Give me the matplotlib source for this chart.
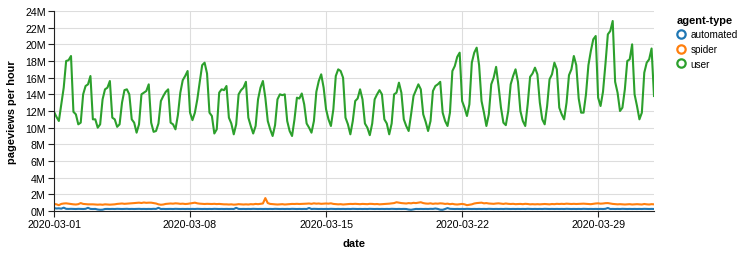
import numpy as np
import pandas as pd
import matplotlib
matplotlib.use('Agg')
import matplotlib.pyplot as plt
import matplotlib.dates as mdates
from matplotlib.lines import Line2D
from matplotlib.ticker import FuncFormatter, MultipleLocator

plt.rcParams['font.family'] = ['Liberation Sans', 'DejaVu Sans']

# pageviews per hour (millions), one sample every 3 hours, 8 per day, 2020-03-01 .. 2020-03-31
user = [
    11.9, 11.3, 10.8, 12.8, 14.8, 18.0, 18.1, 18.6,
    11.9, 11.6, 10.4, 10.6, 14.0, 15.0, 15.2, 16.2,
    11.0, 11.0, 10.0, 10.4, 13.4, 14.6, 14.8, 15.6,
    11.2, 11.0, 10.1, 10.4, 13.0, 14.5, 14.6, 14.0,
    11.0, 10.6, 9.4, 10.4, 14.0, 14.2, 14.4, 15.2,
    10.6, 9.5, 9.6, 10.5, 13.2, 13.8, 14.3, 14.6,
    10.6, 10.4, 9.8, 11.5, 14.2, 15.7, 16.2, 16.8,
    11.8, 10.9, 11.8, 13.4, 15.5, 17.5, 17.8, 16.5,
    11.8, 11.4, 9.3, 9.8, 14.2, 14.6, 14.5, 15.0,
    11.2, 10.5, 9.2, 10.4, 14.0, 14.5, 14.8, 15.5,
    11.2, 10.2, 9.3, 10.2, 13.4, 14.8, 15.6, 13.6,
    10.8, 9.8, 9.0, 10.3, 13.4, 14.0, 13.9, 14.0,
    10.8, 9.6, 9.0, 11.0, 13.6, 13.5, 14.1, 12.8,
    10.5, 10.0, 9.4, 10.8, 14.3, 15.6, 16.4, 14.8,
    12.2, 11.0, 10.2, 12.2, 16.2, 17.0, 16.8, 16.0,
    11.2, 10.4, 9.2, 10.8, 13.2, 13.5, 14.6, 13.4,
    10.5, 10.0, 9.1, 10.5, 13.4, 14.0, 14.5, 14.0,
    11.0, 10.5, 9.2, 10.5, 14.0, 14.2, 15.4, 14.2,
    11.0, 10.2, 9.6, 11.6, 13.8, 14.5, 15.2, 14.6,
    11.6, 10.7, 9.6, 10.8, 14.4, 15.0, 15.2, 15.5,
    11.8, 10.8, 10.2, 11.8, 16.8, 17.4, 18.5, 19.0,
    13.2, 12.4, 11.4, 12.8, 17.8, 19.0, 19.6, 17.5,
    13.2, 11.8, 10.2, 11.6, 15.2, 16.0, 17.3, 15.0,
    12.4, 10.6, 10.3, 12.0, 15.2, 16.2, 17.0, 15.5,
    12.0, 10.8, 10.2, 12.8, 16.1, 16.5, 17.2, 16.4,
    13.0, 11.0, 10.4, 12.6, 15.8, 16.4, 17.8, 17.0,
    12.4, 11.6, 11.0, 13.0, 16.3, 17.0, 18.6, 17.5,
    13.5, 11.8, 11.8, 14.0, 17.5, 19.2, 20.6, 21.0,
    13.6, 12.6, 14.3, 17.6, 21.2, 21.6, 22.8, 15.5,
    14.2, 12.0, 12.4, 14.6, 18.0, 18.2, 20.0, 14.0,
    12.6, 11.0, 11.8, 16.6, 17.8, 18.2, 19.5, 13.8,
]

spider = [
    0.85, 0.80, 0.70, 0.85, 0.90, 0.92, 0.88, 0.85,
    0.80, 0.78, 0.82, 0.95, 0.85, 0.82, 0.80, 0.80,
    0.80, 0.78, 0.76, 0.78, 0.75, 0.80, 0.78, 0.76,
    0.78, 0.80, 0.85, 0.88, 0.90, 0.86, 0.88, 0.90,
    0.92, 0.95, 0.98, 1.00, 0.96, 1.02, 0.98, 1.00,
    1.00, 0.95, 0.90, 0.80, 0.75, 0.78, 0.85, 0.88,
    0.90, 0.88, 0.92, 0.90, 0.86, 0.88, 0.84, 0.86,
    0.90, 0.95, 1.00, 0.92, 0.88, 0.86, 0.84, 0.86,
    0.85, 0.84, 0.86, 0.83, 0.85, 0.82, 0.80, 0.80,
    0.78, 0.80, 0.76, 0.78, 0.82, 0.80, 0.78, 0.80,
    0.78, 0.82, 0.80, 0.85, 0.82, 0.86, 0.90, 1.55,
    0.95, 0.85, 0.82, 0.80, 0.78, 0.80, 0.82, 0.78,
    0.80, 0.82, 0.85, 0.84, 0.86, 0.84, 0.85, 0.86,
    0.88, 0.90, 0.86, 0.92, 0.88, 0.90, 0.86, 0.88,
    0.90, 0.88, 0.92, 0.85, 0.82, 0.80, 0.82, 0.78,
    0.80, 0.82, 0.85, 0.84, 0.86, 0.84, 0.82, 0.85,
    0.84, 0.82, 0.86, 0.85, 0.82, 0.84, 0.80, 0.82,
    0.84, 0.86, 0.88, 0.92, 0.95, 1.05, 1.00, 0.95,
    0.92, 0.90, 0.95, 0.92, 0.98, 0.95, 1.00, 1.05,
    0.95, 0.90, 0.88, 0.92, 0.86, 0.90, 0.88, 0.92,
    0.90, 0.85, 0.88, 0.82, 0.86, 0.80, 0.78, 0.82,
    0.85, 0.80, 0.70, 0.75, 0.80, 0.90, 0.95, 0.98,
    1.00, 0.92, 0.95, 0.90, 0.88, 0.86, 0.90, 0.92,
    0.88, 0.85, 0.90, 0.86, 0.84, 0.86, 0.82, 0.84,
    0.85, 0.82, 0.86, 0.84, 0.80, 0.82, 0.80, 0.82,
    0.80, 0.82, 0.84, 0.82, 0.80, 0.84, 0.82, 0.86,
    0.84, 0.86, 0.84, 0.88, 0.86, 0.84, 0.86, 0.84,
    0.85, 0.86, 0.88, 0.86, 0.84, 0.82, 0.86, 0.90,
    0.92, 0.88, 0.90, 0.94, 0.95, 0.90, 0.85, 0.82,
    0.80, 0.82, 0.80, 0.78, 0.80, 0.82, 0.78, 0.80,
    0.82, 0.80, 0.78, 0.84, 0.80, 0.78, 0.82, 0.80,
]

automated = [
    0.35, 0.30, 0.32, 0.28, 0.40, 0.26, 0.25, 0.26,
    0.25, 0.24, 0.26, 0.25, 0.24, 0.26, 0.38, 0.25,
    0.24, 0.25, 0.18, 0.15, 0.16, 0.24, 0.25, 0.24,
    0.25, 0.24, 0.26, 0.25, 0.24, 0.25, 0.26, 0.24,
    0.25, 0.24, 0.25, 0.26, 0.24, 0.25, 0.24, 0.25,
    0.24, 0.26, 0.25, 0.38, 0.24, 0.25, 0.24, 0.25,
    0.25, 0.24, 0.26, 0.25, 0.24, 0.25, 0.24, 0.25,
    0.24, 0.25, 0.24, 0.26, 0.25, 0.24, 0.25, 0.24,
    0.25, 0.24, 0.26, 0.25, 0.24, 0.25, 0.24, 0.25,
    0.24, 0.25, 0.24, 0.38, 0.25, 0.24, 0.25, 0.24,
    0.25, 0.24, 0.26, 0.25, 0.24, 0.25, 0.24, 0.25,
    0.24, 0.25, 0.24, 0.26, 0.25, 0.24, 0.25, 0.24,
    0.25, 0.24, 0.26, 0.25, 0.24, 0.25, 0.24, 0.25,
    0.24, 0.36, 0.24, 0.26, 0.25, 0.24, 0.25, 0.24,
    0.25, 0.24, 0.26, 0.25, 0.24, 0.25, 0.24, 0.25,
    0.24, 0.25, 0.24, 0.26, 0.25, 0.24, 0.25, 0.24,
    0.25, 0.24, 0.26, 0.25, 0.24, 0.25, 0.24, 0.25,
    0.24, 0.25, 0.24, 0.26, 0.25, 0.24, 0.25, 0.24,
    0.25, 0.24, 0.18, 0.15, 0.20, 0.25, 0.24, 0.25,
    0.24, 0.25, 0.24, 0.26, 0.25, 0.30, 0.25, 0.16,
    0.15, 0.24, 0.35, 0.26, 0.25, 0.24, 0.25, 0.24,
    0.25, 0.24, 0.26, 0.25, 0.24, 0.25, 0.24, 0.25,
    0.24, 0.25, 0.24, 0.26, 0.25, 0.24, 0.25, 0.24,
    0.25, 0.24, 0.26, 0.25, 0.24, 0.25, 0.24, 0.25,
    0.24, 0.25, 0.24, 0.26, 0.25, 0.24, 0.25, 0.24,
    0.25, 0.24, 0.26, 0.25, 0.24, 0.25, 0.24, 0.25,
    0.24, 0.25, 0.24, 0.26, 0.25, 0.24, 0.25, 0.24,
    0.25, 0.24, 0.26, 0.25, 0.24, 0.25, 0.24, 0.25,
    0.24, 0.25, 0.24, 0.26, 0.36, 0.24, 0.25, 0.24,
    0.25, 0.24, 0.26, 0.25, 0.24, 0.25, 0.24, 0.25,
    0.24, 0.25, 0.24, 0.26, 0.25, 0.24, 0.25, 0.24,
]

agent_types = ['automated', 'spider', 'user']
colors = ['#1f77b4', '#ff7f0e', '#2ca02c']

dates = pd.date_range('2020-03-01', periods=len(user), freq='3h')
series = {'automated': automated, 'spider': spider, 'user': user}

fig = plt.figure(figsize=(7.48, 2.55), dpi=100)
ax = fig.add_axes([54 / 748, 43 / 255, 600 / 748, 200 / 255])

for name, c in zip(agent_types, colors):
    ax.plot(dates, np.array(series[name]) * 1e6, color=c, lw=1.5, solid_joinstyle='round')

ax.set_xlim(dates[0], dates[-1])
ax.set_ylim(0, 24e6)
ax.yaxis.set_major_locator(MultipleLocator(2e6))
ax.yaxis.set_major_formatter(FuncFormatter(lambda v, p: '%dM' % round(v / 1e6)))
ax.xaxis.set_major_locator(mdates.DayLocator(bymonthday=[1, 8, 15, 22, 29]))
ax.xaxis.set_major_formatter(mdates.DateFormatter('%Y-%m-%d'))

ax.grid(True, color='#dddddd', lw=0.8)
ax.set_axisbelow(True)
for s in ['top', 'right']:
    ax.spines[s].set_visible(False)
for s in ['left', 'bottom']:
    ax.spines[s].set_color('#222222')
    ax.spines[s].set_linewidth(0.8)
ax.tick_params(length=4, width=0.8, color='#222222', labelsize=7.7, pad=2, labelcolor='#000000')

ax.set_xlabel('date', fontsize=7.9, fontweight='bold', labelpad=6)
ax.set_ylabel('pageviews per hour', fontsize=7.9, fontweight='bold', labelpad=6)

handles = [Line2D([], [], ls='none', marker='o', markersize=6, markerfacecolor='none',
                  markeredgecolor=c, markeredgewidth=1.6) for c in colors]
leg = fig.legend(handles, agent_types, loc='upper left', bbox_to_anchor=(677 / 748, 1 - 16 / 255),
                 frameon=False, title='agent-type', fontsize=7.2, handlelength=0.8,
                 handletextpad=0.55, labelspacing=0.45, borderaxespad=0, borderpad=0,
                 title_fontproperties={'weight': 'bold', 'size': 7.9})
leg._legend_box.align = 'left'

fig.savefig('out.png', dpi=100)
